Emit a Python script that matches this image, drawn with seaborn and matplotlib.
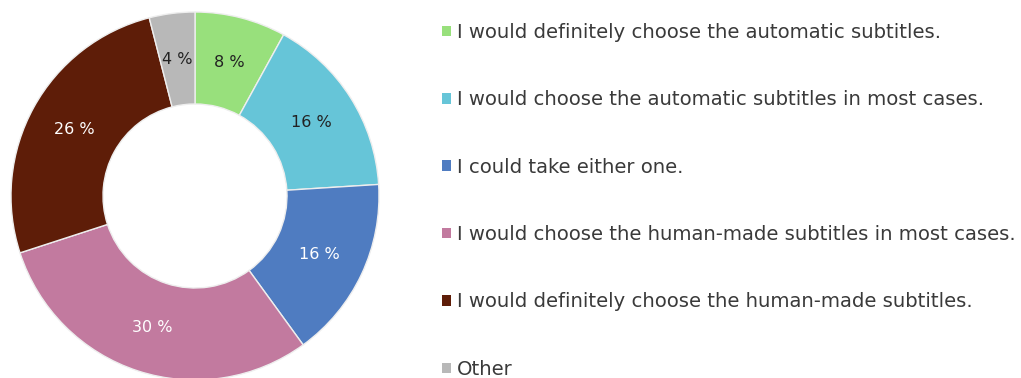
import matplotlib
matplotlib.use("Agg")
import matplotlib.pyplot as plt
import seaborn as sns

# dados do gráfico
categorias = [
    "I would definitely choose the automatic subtitles.",
    "I would choose the automatic subtitles in most cases.",
    "I could take either one.",
    "I would choose the human-made subtitles in most cases.",
    "I would definitely choose the human-made subtitles.",
    "Other",
]
percentuais = [8, 16, 16, 30, 26, 4]
cores = ["#98e07c", "#66c5d8", "#4f7cc1", "#c27a9f", "#5e1d08", "#b8b8b8"]
cor_rotulo = ["#222222", "#222222", "white", "white", "white", "#222222"]

sns.set_theme(style="white")
plt.rcParams['font.family'] = ['DejaVu Sans']

fig = plt.figure(figsize=(10.21, 3.78), dpi=100)
# eixo do donut: centro (195, 196) px, raio 184 px
ax = fig.add_axes([11 / 1021, -2 / 378, 368 / 1021, 368 / 378])

wedges, textos, autotextos = ax.pie(
    percentuais,
    colors=sns.color_palette(cores),
    startangle=90,
    counterclock=False,
    radius=1.0,
    wedgeprops=dict(width=0.5, edgecolor="#eeeeee", linewidth=1),
    autopct=lambda p: f"{p:.0f} %",
    pctdistance=0.75,
    textprops=dict(fontsize=11.5),
)
for t, c in zip(autotextos, cor_rotulo):
    t.set_color(c)
ax.set_aspect("equal")
ax.set_xlim(-1, 1)
ax.set_ylim(-1, 1)
ax.axis("off")

leg = fig.legend(
    wedges, categorias,
    loc="upper left",
    bbox_to_anchor=(442 / 1021, 1 - 23 / 378),
    frameon=False,
    fontsize=14.1,
    labelspacing=2.47,
    handlelength=0.46,
    handleheight=0.46,
    handletextpad=0.3,
    borderaxespad=0,
    borderpad=0,
)
for t in leg.get_texts():
    t.set_color("#3a3a3a")
for h in leg.legend_handles:
    h.set_edgecolor("none")

fig.savefig("out.png", dpi=100)
